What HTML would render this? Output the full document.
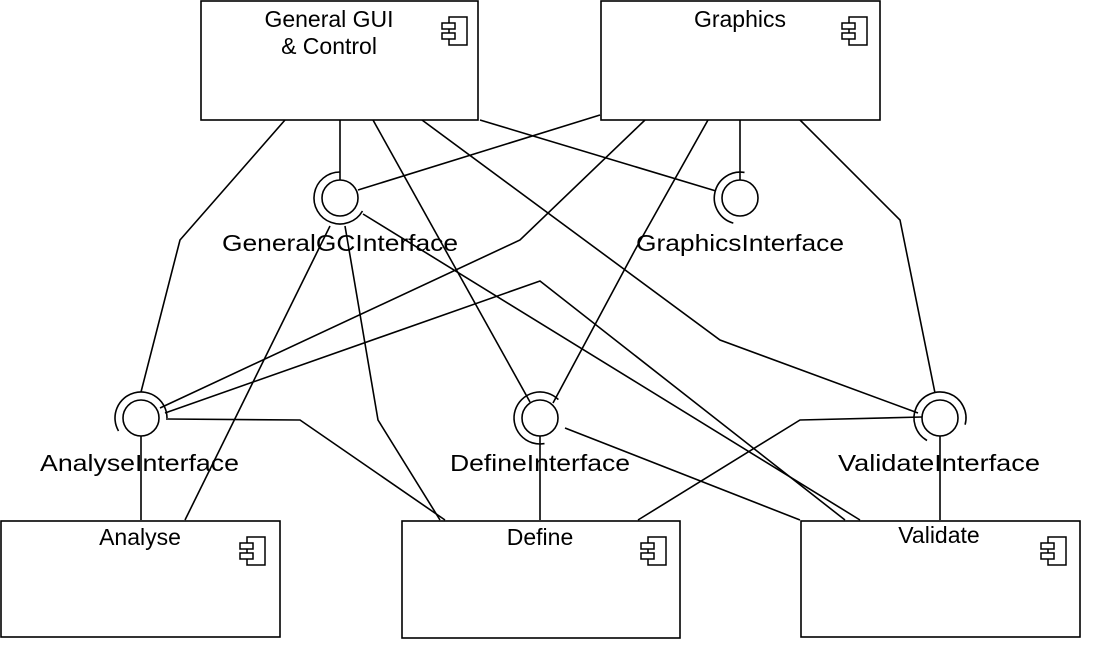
<!DOCTYPE html>
<html><head><style>body{margin:0;background:#fff}svg{display:block}</style></head>
<body>
<svg width="1100" height="660" viewBox="0 0 1100 660" xmlns="http://www.w3.org/2000/svg" font-family="Liberation Sans, sans-serif" font-size="23">
<defs>
<g id="ic" fill="#fff" stroke="#000" stroke-width="1.5">
<rect x="7" y="0" width="18" height="28"/>
<rect x="0" y="6" width="13" height="6"/>
<rect x="0" y="16" width="13" height="6"/>
</g>
</defs>
<g fill="none" stroke="#000" stroke-width="1.6">
<polyline points="285,120 180,240 141,392"/>
<line x1="340" y1="120" x2="340" y2="180"/>
<line x1="373" y1="120" x2="530" y2="402"/>
<polyline points="422,120 720,340 918,413"/>
<line x1="480" y1="120" x2="716" y2="191"/>
<line x1="600" y1="115" x2="358" y2="190"/>
<polyline points="645,120 520,240 160,408"/>
<polyline points="708,120 635,250 553,403"/>
<line x1="740" y1="120" x2="740" y2="180"/>
<polyline points="800,120 900,220 935,393"/>
<line x1="363" y1="214" x2="860" y2="520"/>
<polyline points="165,413 540,281 845,520"/>
<polyline points="345,226 378,420 440,520"/>
<line x1="330" y1="226" x2="185" y2="520"/>
<polyline points="166,419 300,420 445,520"/>
<line x1="141" y1="436" x2="141" y2="520"/>
<line x1="540" y1="436" x2="540" y2="520"/>
<line x1="565" y1="428" x2="800" y2="520"/>
<polyline points="922,417 800,420 638,520"/>
<line x1="940" y1="436" x2="940" y2="520"/>
<rect x="201" y="1" width="277" height="119" fill="#fff"/>
<rect x="601" y="1" width="279" height="119" fill="#fff"/>
<rect x="1" y="521" width="279" height="116" fill="#fff"/>
<rect x="402" y="521" width="278" height="117" fill="#fff"/>
<rect x="801" y="521" width="279" height="116" fill="#fff"/>
<circle cx="340" cy="198" r="18" fill="#fff"/>
<path d="M340,172 A26,26 0 1 0 362.5,211"/>
<circle cx="740" cy="198" r="18" fill="#fff"/>
<path d="M744.5,172.4 A26,26 0 0 0 733.3,223.1"/>
<circle cx="141" cy="418" r="18" fill="#fff"/>
<path d="M118.5,431 A26,26 0 1 1 167,418"/>
<circle cx="540" cy="418" r="18" fill="#fff"/>
<path d="M544.5,443.6 A26,26 0 1 1 558.4,399.6"/>
<circle cx="940" cy="418" r="18" fill="#fff"/>
<path d="M927,440.5 A26,26 0 1 1 965.1,424.7"/>
</g>
<use href="#ic" x="442" y="17"/>
<use href="#ic" x="842" y="17"/>
<use href="#ic" x="240" y="537"/>
<use href="#ic" x="641" y="537"/>
<use href="#ic" x="1041" y="537"/>
<g fill="#000" text-anchor="middle">
<text x="329" y="27">General GUI</text>
<text x="329" y="54">&amp; Control</text>
<text x="740" y="27">Graphics</text>
<text x="140" y="545">Analyse</text>
<text x="540" y="545">Define</text>
<text x="939" y="543">Validate</text>
</g>
<g fill="#000">
<text x="222" y="251" textLength="236" lengthAdjust="spacingAndGlyphs">GeneralGCInterface</text>
<text x="636" y="251" textLength="208" lengthAdjust="spacingAndGlyphs">GraphicsInterface</text>
<text x="40" y="471" textLength="199" lengthAdjust="spacingAndGlyphs">AnalyseInterface</text>
<text x="450" y="471" textLength="180" lengthAdjust="spacingAndGlyphs">DefineInterface</text>
<text x="838" y="471" textLength="202" lengthAdjust="spacingAndGlyphs">ValidateInterface</text>
</g>
</svg>
</body></html>
